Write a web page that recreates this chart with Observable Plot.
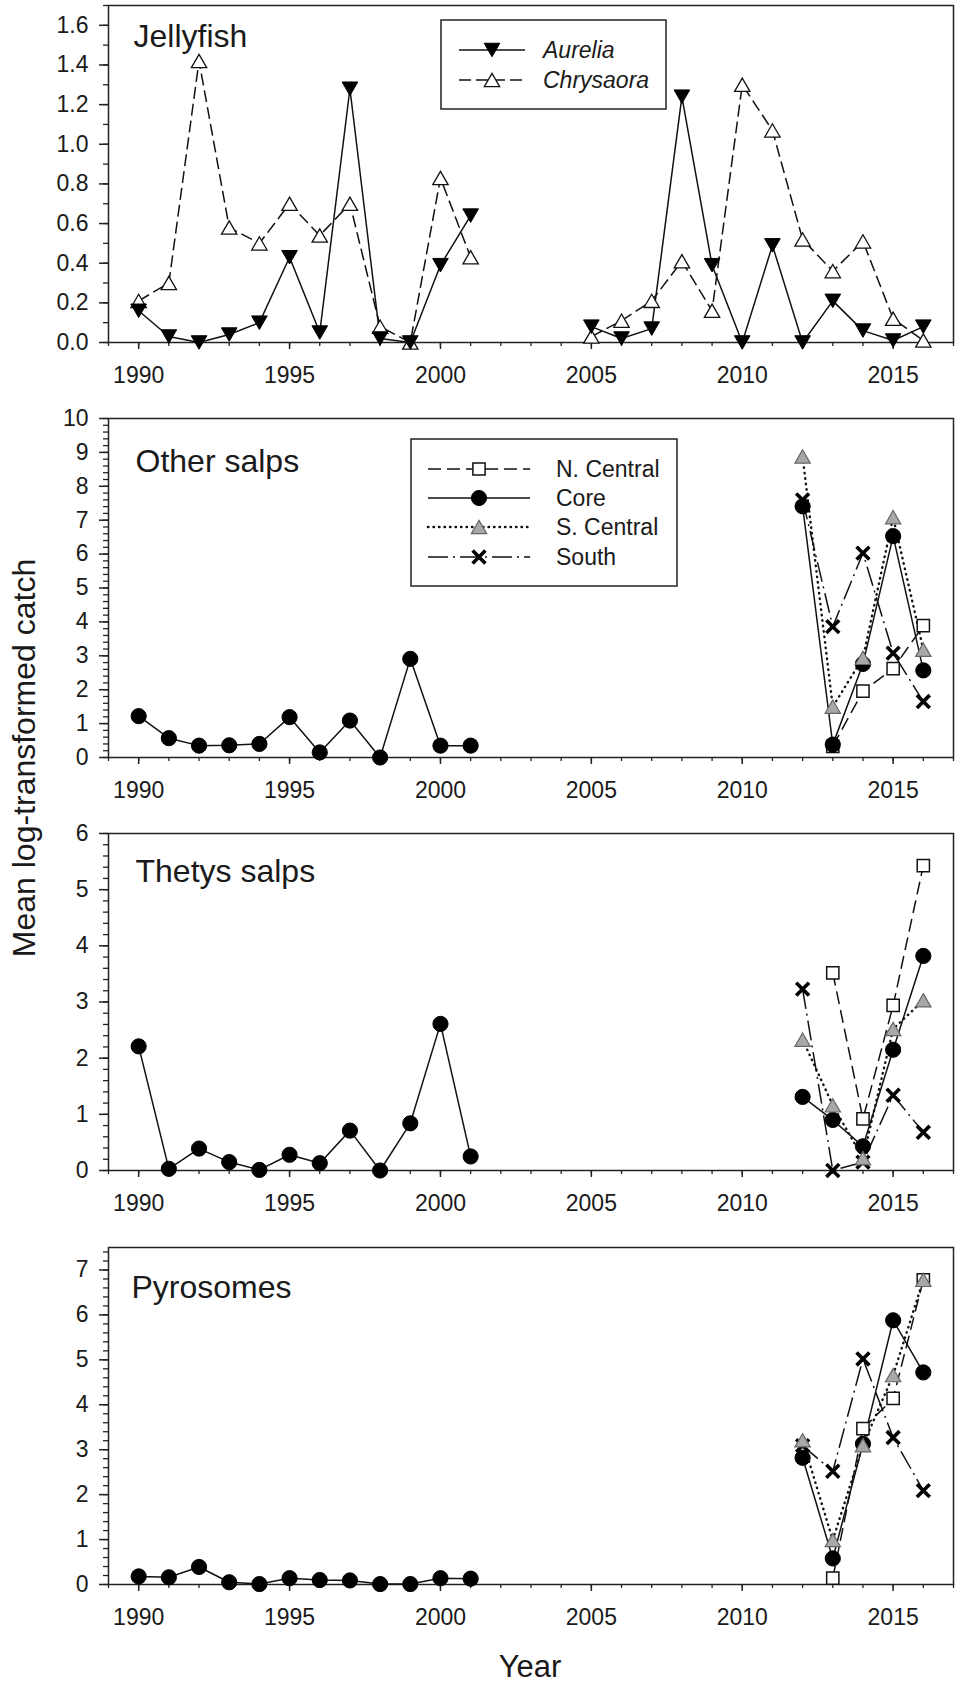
<!DOCTYPE html>
<html><head><meta charset="utf-8">
<script src="https://cdn.jsdelivr.net/npm/d3@7"></script>
<script src="https://cdn.jsdelivr.net/npm/@observablehq/plot@0.6"></script>
<style>
html,body{margin:0;padding:0;background:#fff;}
#chart{position:relative;width:961px;height:1683px;overflow:hidden;background:#fff;}
#chart svg{position:absolute;left:0;}
</style></head><body><div id="chart"></div>
<script>
const FONT = '"Liberation Sans", Arial, Helvetica, sans-serif';

// ---------- data ----------
const jellyYears = [1990,1991,1992,1993,1994,1995,1996,1997,1998,1999,2000,2001,
                    2005,2006,2007,2008,2009,2010,2011,2012,2013,2014,2015,2016];
const aurelia   = [0.16,0.03,0.00,0.04,0.10,0.43,0.05,1.28,0.02,0.00,0.39,0.64,
                   0.08,0.02,0.07,1.24,0.39,0.00,0.49,0.00,0.21,0.06,0.01,0.08];
const chrysaora = [0.21,0.30,1.42,0.58,0.50,0.70,0.54,0.70,0.08,0.00,0.83,0.43,
                   0.03,0.11,0.21,0.41,0.16,1.30,1.07,0.52,0.36,0.51,0.12,0.01];

const earlyYears = [1990,1991,1992,1993,1994,1995,1996,1997,1998,1999,2000,2001];
const lateYears  = [2012,2013,2014,2015,2016];

const otherCoreEarly = [1.22,0.57,0.35,0.36,0.40,1.19,0.15,1.09,0.00,2.91,0.35,0.35];
const otherNCentral  = [null,0.33,1.96,2.62,3.89];
const otherCore      = [7.41,0.38,2.76,6.53,2.57];
const otherSCentral  = [8.88,1.50,2.94,7.09,3.18];
const otherSouth     = [7.60,3.86,6.03,3.08,1.65];

const thetysCoreEarly = [2.21,0.03,0.39,0.15,0.01,0.28,0.13,0.71,0.00,0.84,2.61,0.25];
const thetysNCentral  = [null,3.52,0.92,2.94,5.43];
const thetysCore      = [1.31,0.90,0.43,2.15,3.82];
const thetysSCentral  = [2.33,1.16,0.22,2.52,3.03];
const thetysSouth     = [3.23,0.00,0.15,1.34,0.68];

const pyroCoreEarly = [0.18,0.16,0.39,0.05,0.01,0.14,0.10,0.09,0.01,0.01,0.14,0.13];
const pyroNCentral  = [null,0.14,3.47,4.14,6.78];
const pyroCore      = [2.82,0.58,3.13,5.88,4.72];
const pyroSCentral  = [3.21,0.99,3.10,4.66,6.78];
const pyroSouth     = [3.09,2.52,5.02,3.27,2.09];

// ---------- ticks ----------
const xMajorTicks = [1990,1995,2000,2005,2010,2015];
const xMinorTicks = d3.range(1989, 2018);
const jellyYTicks = [0,0.2,0.4,0.6,0.8,1.0,1.2,1.4,1.6];
const jellyYMinor = d3.range(0, 18).map(i => i / 10);
const otherYTicks = [0,1,2,3,4,5,6,7,8,9,10];
const otherYMinor = d3.range(0, 51).map(i => i / 5);
const thetysYTicks = [0,1,2,3,4,5,6];
const thetysYMinor = d3.range(0, 31).map(i => i / 5);
const pyroYTicks = [0,1,2,3,4,5,6,7];
const pyroYMinor = d3.range(0, 38).map(i => i / 5);

// ---------- symbols ----------
const triUp = {draw(ctx, size) {
  const s = Math.sqrt(4 * size / Math.sqrt(3)), h = s * Math.sqrt(3) / 2;
  ctx.moveTo(0, -h / 2); ctx.lineTo(s / 2, h / 2); ctx.lineTo(-s / 2, h / 2); ctx.closePath();
}};
const triDown = {draw(ctx, size) {
  const s = Math.sqrt(4 * size / Math.sqrt(3)), h = s * Math.sqrt(3) / 2;
  ctx.moveTo(0, h / 2); ctx.lineTo(s / 2, -h / 2); ctx.lineTo(-s / 2, -h / 2); ctx.closePath();
}};

const jellySeries = [
  {name: "Chrysaora", values: chrysaora, dash: "12,5", cap: "butt", sw: 1.5, symbol: triUp, d3sym: triUp, r: 5.7, fill: "white", stroke: "#111", msw: 1.3},
  {name: "Aurelia", values: aurelia, dash: null, cap: "butt", sw: 1.5, symbol: triDown, d3sym: triDown, r: 5.8, fill: "#000", stroke: "#000", msw: 1}
];
const regionStyles = {
  "N. Central": {dash: "13,6", cap: "butt", sw: 1.5, symbol: "square", d3sym: d3.symbolSquare, r: 6.9, fill: "white", stroke: "#111", msw: 1.5},
  "Core":       {dash: null, cap: "butt", sw: 1.5, symbol: "circle", d3sym: d3.symbolCircle, r: 7.6, fill: "#000", stroke: "#000", msw: 1},
  "South":      {dash: "20,5,2,5", cap: "butt", sw: 1.5, symbol: "times", d3sym: d3.symbolTimes, r: 5.9, fill: "none", stroke: "#000", msw: 3.6},
  "S. Central": {dash: "0.5,5", cap: "round", sw: 2.4, symbol: triUp, d3sym: triUp, r: 5.7, fill: "#a8a8a8", stroke: "#666", msw: 1.2}
};
const drawOrder = ["N. Central", "Core", "South", "S. Central"];
const legendOrder = ["N. Central", "Core", "S. Central", "South"];

function jellyData() {
  const out = [];
  jellySeries.forEach(s => s.values.forEach((v, i) => {
    out.push({series: s.name, year: jellyYears[i], value: v, seg: jellyYears[i] < 2003 ? "a" : "b"});
  }));
  return out;
}
function regionData(early, nc, core, sc, south) {
  const out = [];
  early.forEach((v, i) => out.push({series: "Core", year: earlyYears[i], value: v, seg: "a"}));
  const late = {"N. Central": nc, "Core": core, "S. Central": sc, "South": south};
  for (const k in late) late[k].forEach((v, i) => {
    if (v != null) out.push({series: k, year: lateYears[i], value: v, seg: "b"});
  });
  return out;
}

const panels = [
  {top: 0, height: 400, mt: 5, mb: 58, ymax: 1.7, major: jellyYTicks, minor: jellyYMinor, fmt: d => d.toFixed(1),
   title: "Jellyfish", tdx: 25, tdy: 19, data: jellyData(), series: jellySeries},
  {top: 400, height: 412, mt: 18, mb: 55, ymax: 10, major: otherYTicks, minor: otherYMinor, fmt: d => String(d),
   title: "Other salps", tdx: 27, tdy: 31, data: regionData(otherCoreEarly, otherNCentral, otherCore, otherSCentral, otherSouth)},
  {top: 812, height: 413, mt: 21, mb: 55, ymax: 6, major: thetysYTicks, minor: thetysYMinor, fmt: d => String(d),
   title: "Thetys salps", tdx: 27, tdy: 26, data: regionData(thetysCoreEarly, thetysNCentral, thetysCore, thetysSCentral, thetysSouth)},
  {top: 1225, height: 415, mt: 22, mb: 56, ymax: 7.5, major: pyroYTicks, minor: pyroYMinor, fmt: d => String(d),
   title: "Pyrosomes", tdx: 23, tdy: 28, data: regionData(pyroCoreEarly, pyroNCentral, pyroCore, pyroSCentral, pyroSouth)}
];

const chart = document.getElementById("chart");

panels.forEach(p => {
  const series = p.series || drawOrder.map(n => ({name: n, ...regionStyles[n]}));
  const lines = series.map(s => Plot.line(p.data.filter(d => d.series === s.name), {
    x: "year", y: "value", z: "seg", stroke: "#111", strokeWidth: s.sw,
    strokeDasharray: s.dash || undefined, strokeLinecap: s.cap, strokeLinejoin: "round"
  }));
  const dots = series.map(s => Plot.dot(p.data.filter(d => d.series === s.name), {
    x: "year", y: "value", symbol: s.symbol, r: s.r, fill: s.fill, stroke: s.stroke, strokeWidth: s.msw
  }));
  const svg = Plot.plot({
    width: 961, height: p.height,
    marginLeft: 108, marginRight: 8, marginTop: p.mt, marginBottom: p.mb,
    x: {domain: [1989, 2017]},
    y: {domain: [0, p.ymax]},
    style: {fontFamily: FONT, fontSize: "23px", color: "#1a1a1a", background: "white", overflow: "visible"},
    marks: [
      Plot.frame({stroke: "#222", strokeWidth: 1.5}),
      Plot.axisY(p.minor, {tickSize: 5, tickFormat: () => "", label: null, stroke: "#222", strokeWidth: 1.3}),
      Plot.axisY(p.major, {tickSize: 9, tickPadding: 11, tickFormat: p.fmt, fontSize: 23, label: null, stroke: "#222", strokeWidth: 1.5}),
      Plot.axisX(xMinorTicks, {tickSize: 4, tickFormat: () => "", label: null, stroke: "#222", strokeWidth: 1.3}),
      Plot.axisX(xMajorTicks, {tickSize: 7, tickPadding: 17, tickFormat: d => String(d), fontSize: 23, label: null, stroke: "#222", strokeWidth: 1.5}),
      Plot.text([p.title], {text: d => d, frameAnchor: "top-left", dx: p.tdx, dy: p.tdy, fontSize: 32,
        textAnchor: "start", lineAnchor: "top", fill: "#1a1a1a"}),
      ...lines,
      ...dots
    ]
  });
  svg.style.top = p.top + "px";
  chart.appendChild(svg);
});

// ---------- overlay: axis titles and legends ----------
const ov = d3.select(chart).append("svg")
  .attr("width", 961).attr("height", 1683)
  .style("top", "0px").style("pointer-events", "none")
  .style("font-family", FONT);

ov.append("text").attr("transform", "translate(35,758) rotate(-90)")
  .attr("text-anchor", "middle").attr("font-size", 32).attr("fill", "#1a1a1a")
  .text("Mean log-transformed catch");
ov.append("text").attr("x", 530).attr("y", 1677)
  .attr("text-anchor", "middle").attr("font-size", 31).attr("fill", "#1a1a1a")
  .text("Year");

function drawLegend(box, rows) {
  const g = ov.append("g");
  g.append("rect").attr("x", box.x).attr("y", box.y).attr("width", box.w).attr("height", box.h)
    .attr("fill", "white").attr("stroke", "#222").attr("stroke-width", 1.5);
  rows.forEach((r, i) => {
    const y = box.rowY[i];
    g.append("line").attr("x1", box.lx1).attr("x2", box.lx2).attr("y1", y).attr("y2", y)
      .attr("stroke", "#111").attr("stroke-width", r.sw)
      .attr("stroke-dasharray", r.dash || null).attr("stroke-linecap", r.cap);
    g.append("path").attr("d", d3.symbol(r.d3sym, Math.PI * r.r * r.r)())
      .attr("transform", `translate(${box.mx},${y})`)
      .attr("fill", r.fill).attr("stroke", r.stroke).attr("stroke-width", r.msw);
    g.append("text").attr("x", box.tx).attr("y", y).attr("dy", "0.36em")
      .attr("font-size", 23).attr("fill", "#1a1a1a")
      .attr("font-style", box.italic ? "italic" : null).text(r.name);
  });
}
drawLegend({x: 441, y: 20, w: 225, h: 89, rowY: [50, 80], lx1: 459, lx2: 525, mx: 492, tx: 543, italic: true},
  [jellySeries[1], jellySeries[0]]);
drawLegend({x: 411, y: 439, w: 266, h: 147, rowY: [469, 498, 527, 557], lx1: 428, lx2: 530, mx: 479, tx: 556, italic: false},
  legendOrder.map(n => ({name: n, ...regionStyles[n]})));
</script></body></html>
